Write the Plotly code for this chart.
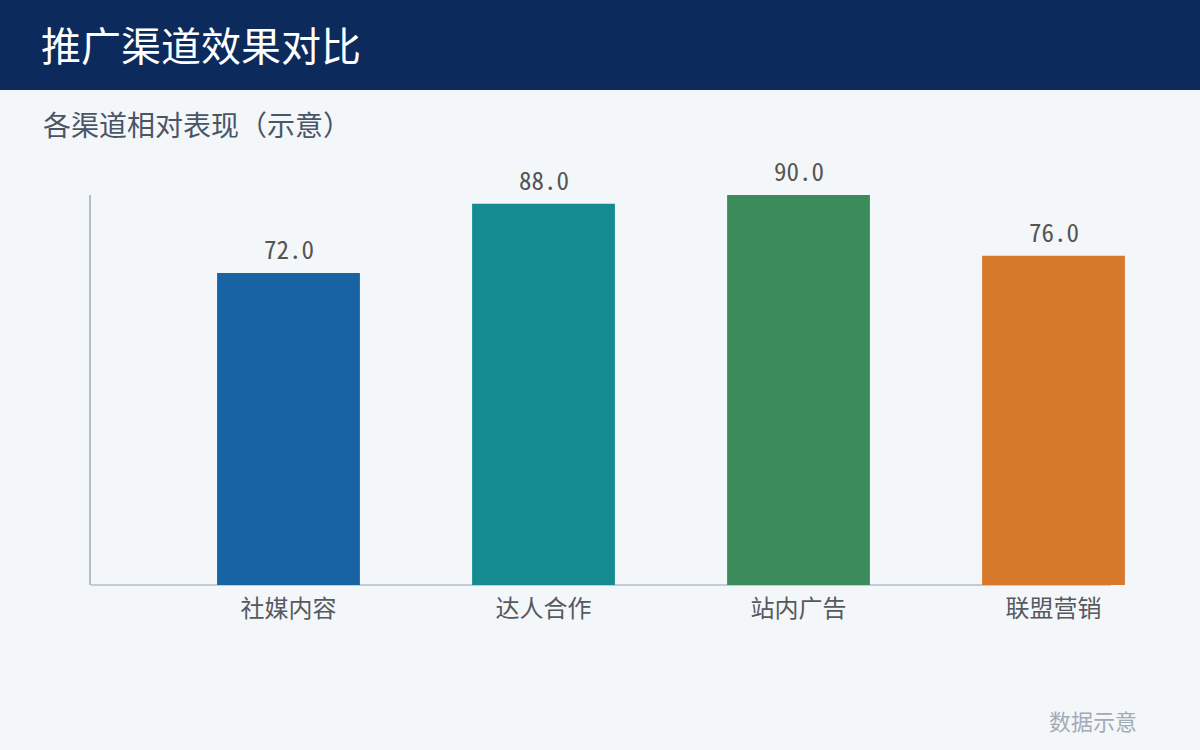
import plotly.graph_objects as go

categories = ["社媒内容", "达人合作", "站内广告", "联盟营销"]
values = [72.0, 88.0, 90.0, 76.0]
bar_colors = ["#1763a3", "#138b8f", "#3c8b5a", "#d7792a"]
title_text = "推广渠道效果对比"
subtitle_text = "各渠道相对表现（示意）"
footer_text = "数据示意"

W, H = 1200, 750
ML, MR, MT, MB = 91, 50, 195, 165
PW, PH = W - ML - MR, H - MT - MB
AXIS_END = 1111
UNIT = 255.0
X0 = -0.7745
X1 = X0 + PW / UNIT

def px_x(x):
    return (x - ML) / PW

def px_y(y):
    return (H - MB - y) / PH

CJK = "Noto Sans CJK SC, Noto Sans, sans-serif"

fig = go.Figure()
fig.add_trace(go.Bar(
    x=categories, y=values,
    marker=dict(color=bar_colors, line=dict(width=0)),
    width=0.56,
    hoverinfo="skip",
))

annotations = []
for c, v in zip(categories, values):
    annotations.append(dict(
        x=c, y=v, xref="x", yref="y", text=f"{v:.1f}", showarrow=False,
        yanchor="bottom", yshift=5,
        font=dict(family="Noto Sans Mono CJK SC, Noto Sans CJK SC, monospace", size=25, color="#555555"),
    ))

annotations.append(dict(
    x=px_x(41), y=px_y(124), xref="paper", yref="paper", text=subtitle_text,
    showarrow=False, xanchor="left", yanchor="middle",
    font=dict(family=CJK, size=28, color="#4a5566"),
))
annotations.append(dict(
    x=px_x(1139), y=px_y(720), xref="paper", yref="paper", text=footer_text,
    showarrow=False, xanchor="right", yanchor="middle",
    font=dict(family=CJK, size=22, color="#a3abb6"),
))
annotations.append(dict(
    x=px_x(39), y=px_y(44), xref="paper", yref="paper", text=title_text,
    showarrow=False, xanchor="left", yanchor="middle",
    font=dict(family=CJK, size=40, color="#ffffff"),
))

fig.update_layout(
    width=W, height=H,
    margin=dict(l=ML, r=MR, t=MT, b=MB),
    paper_bgcolor="#f4f7fa",
    plot_bgcolor="#f4f7fa",
    showlegend=False,
    shapes=[
        dict(
            type="rect", xref="paper", yref="paper",
            x0=px_x(-10), x1=px_x(W + 10), y0=px_y(90), y1=px_y(-10),
            fillcolor="#0c2a5c", line=dict(width=0), layer="below",
        ),
        dict(
            type="line", xref="paper", yref="paper",
            x0=0, x1=px_x(AXIS_END), y0=0, y1=0,
            line=dict(color="#b3bdc8", width=1.5), layer="below",
        ),
    ],
    annotations=annotations,
    xaxis=dict(
        type="category", range=[X0, X1],
        showline=False,
        showgrid=False, zeroline=False, ticks="",
        tickfont=dict(family=CJK, size=24, color="#555a60"),
        ticklabelstandoff=7,
        fixedrange=True,
    ),
    yaxis=dict(
        range=[0, 90],
        showline=True, linecolor="#b3bdc8", linewidth=1.5,
        showgrid=False, zeroline=False, showticklabels=False, ticks="",
        fixedrange=True,
    ),
)

fig.write_html("out.html", config={"displayModeBar": False},
               post_script="document.body.style.margin='0';")
